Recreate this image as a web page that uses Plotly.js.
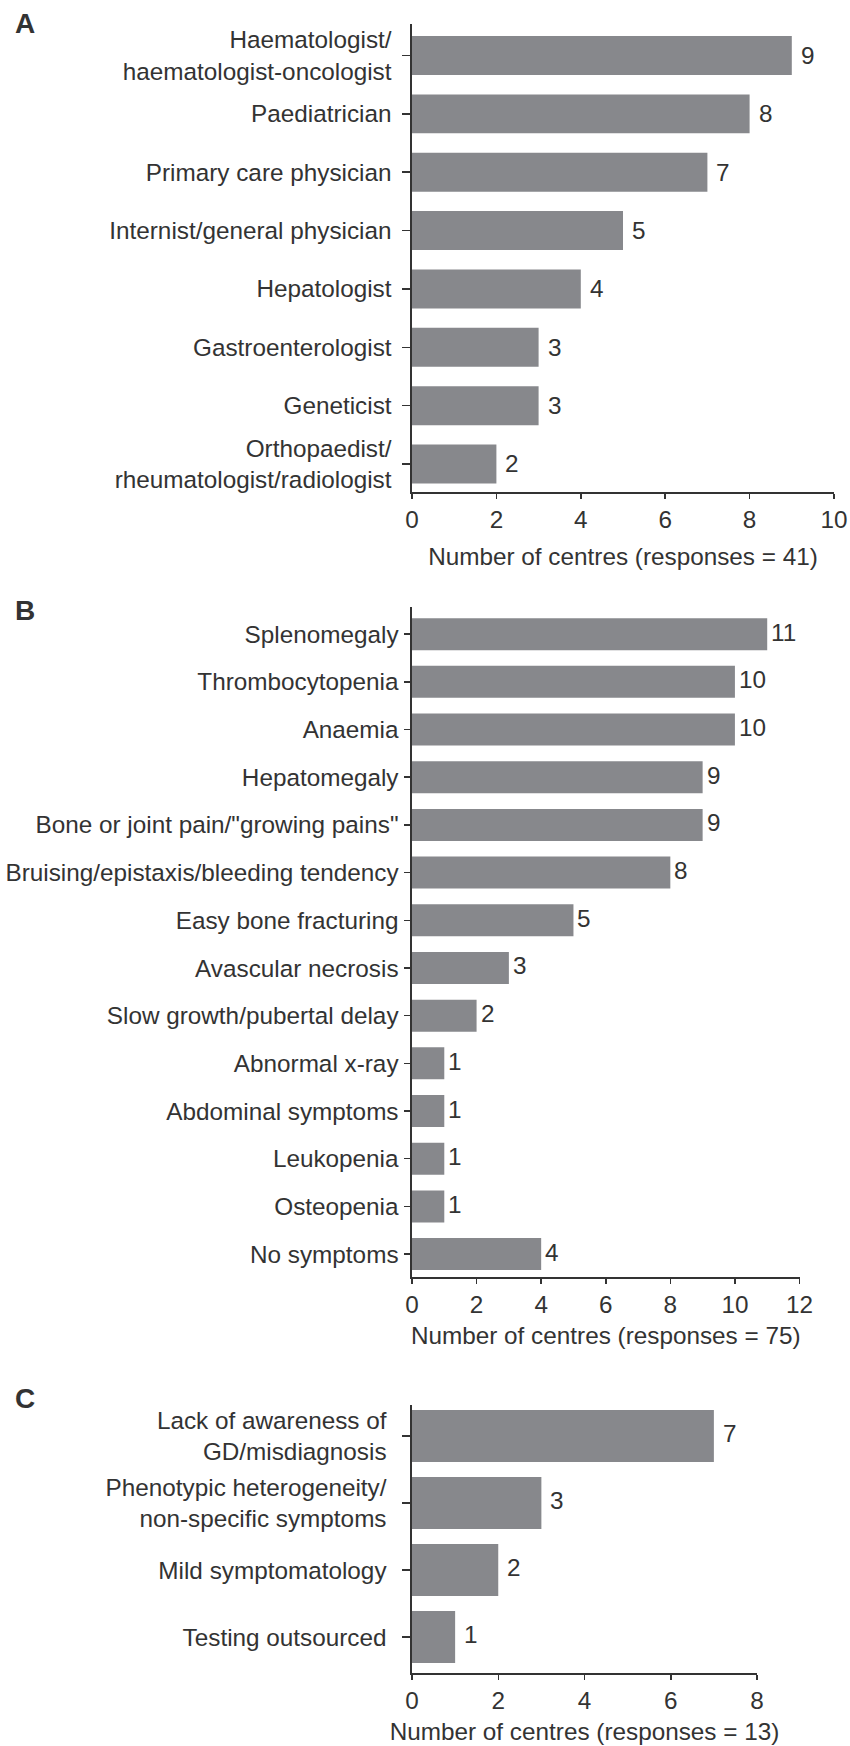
<!DOCTYPE html>
<html>
<head>
<meta charset="utf-8">
<script src="https://cdn.plot.ly/plotly-3.0.1.min.js"></script>
<style>
html,body{margin:0;padding:0;background:#fff;}
#chart{width:850px;height:1746px;}
</style>
</head>
<body>
<div id="chart"></div>
<script>
// Panel A: specialists
const catsA = ["Haematologist/<br>haematologist-oncologist", "Paediatrician", "Primary care physician",
  "Internist/general physician", "Hepatologist", "Gastroenterologist", "Geneticist",
  "Orthopaedist/<br>rheumatologist/radiologist"];
const valsA = [9, 8, 7, 5, 4, 3, 3, 2];

// Panel B: symptoms
const catsB = ["Splenomegaly", "Thrombocytopenia", "Anaemia", "Hepatomegaly",
  "Bone or joint pain/\"growing pains\"", "Bruising/epistaxis/bleeding tendency",
  "Easy bone fracturing", "Avascular necrosis", "Slow growth/pubertal delay",
  "Abnormal x-ray", "Abdominal symptoms", "Leukopenia", "Osteopenia", "No symptoms"];
const valsB = [11, 10, 10, 9, 9, 8, 5, 3, 2, 1, 1, 1, 1, 4];

// Panel C: barriers
const catsC = ["Lack of awareness of<br>GD/misdiagnosis", "Phenotypic heterogeneity/<br>non-specific symptoms",
  "Mild symptomatology", "Testing outsourced"];
const valsC = [7, 3, 2, 1];

const xTitles = ["Number of centres (responses = 41)", "Number of centres (responses = 75)", "Number of centres (responses = 13)"];
const panelLetters = ["A", "B", "C"];

const W = 850, H = 1746;
const BAR = "#87888c", INK = "#333333", FONT = "Liberation Sans, Arial, sans-serif";
const FS = 24.3;

function py(px) { return 1 - px / H; }
function pxx(px) { return px / W; }

const traces = [
  {type: "bar", orientation: "h", x: valsA, y: catsA, xaxis: "x", yaxis: "y", marker: {color: BAR}, hoverinfo: "none", width: 0.668},
  {type: "bar", orientation: "h", x: valsB, y: catsB, xaxis: "x2", yaxis: "y2", marker: {color: BAR}, hoverinfo: "none", width: 0.671},
  {type: "bar", orientation: "h", x: valsC, y: catsC, xaxis: "x3", yaxis: "y3", marker: {color: BAR}, hoverinfo: "none", width: 0.776}
];

function xax(domainR, rmax, anchor, title, standoff) {
  return {
    domain: [pxx(412), pxx(domainR)], range: [0, rmax], dtick: 2, anchor: anchor,
    showline: true, linecolor: INK, linewidth: 1.6, showgrid: false, zeroline: false,
    ticks: "outside", ticklen: 5, tickwidth: 1.5, tickcolor: INK,
    tickfont: {size: FS, color: INK, family: FONT}, fixedrange: true,
    title: {text: title, font: {size: FS, color: INK, family: FONT}, standoff: standoff}
  };
}
function yax(top, bottom, cats, r0, r1, anchor, ticklen, standoff) {
  return {
    domain: [py(bottom), py(top)], type: "category", categoryorder: "array", categoryarray: cats,
    range: [r1, r0], anchor: anchor,
    showline: true, linecolor: INK, linewidth: 1.6, showgrid: false, zeroline: false,
    ticks: "outside", ticklen: ticklen, tickwidth: 1.5, tickcolor: INK, ticklabelstandoff: standoff,
    tickfont: {size: FS, color: INK, family: FONT}, fixedrange: true
  };
}

const annotations = [];
function addValues(cats, vals, xref, yref, shift, yshift) {
  cats.forEach((c, i) => annotations.push({
    x: vals[i], y: c, xref: xref, yref: yref, text: String(vals[i]), showarrow: false,
    xanchor: "left", yanchor: "middle", xshift: shift, yshift: yshift,
    font: {size: FS, color: INK, family: FONT}
  }));
}
addValues(catsA, valsA, "x", "y", 7, 0);
addValues(catsB, valsB, "x2", "y2", 2, 2);
addValues(catsC, valsC, "x3", "y3", 7, 3);

const letterY = [24, 610, 1398];
panelLetters.forEach((L, i) => annotations.push({
  x: pxx(25), y: py(letterY[i]), xref: "paper", yref: "paper", text: "<b>" + L + "</b>",
  showarrow: false, xanchor: "center", yanchor: "middle",
  font: {size: 28, color: INK, family: FONT}
}));

const layout = {
  width: W, height: H, margin: {l: 0, r: 0, t: 0, b: 0},
  paper_bgcolor: "#fff", plot_bgcolor: "#fff", showlegend: false,
  font: {family: FONT, color: INK},
  xaxis: xax(834, 10, "y", xTitles[0], 16),
  yaxis: yax(24, 492, catsA, -0.54, 7.48, "x", 8, 6),
  xaxis2: xax(799.5, 12, "y2", xTitles[1], 10),
  yaxis2: yax(607, 1277, catsB, -0.57, 13.48, "x2", 6, 1),
  xaxis3: xax(757, 8, "y3", xTitles[2], 10),
  yaxis3: yax(1405, 1673, catsC, -0.463, 3.537, "x3", 8, 11),
  annotations: annotations
};

Plotly.newPlot("chart", traces, layout, {staticPlot: true, displayModeBar: false});
</script>
</body>
</html>
